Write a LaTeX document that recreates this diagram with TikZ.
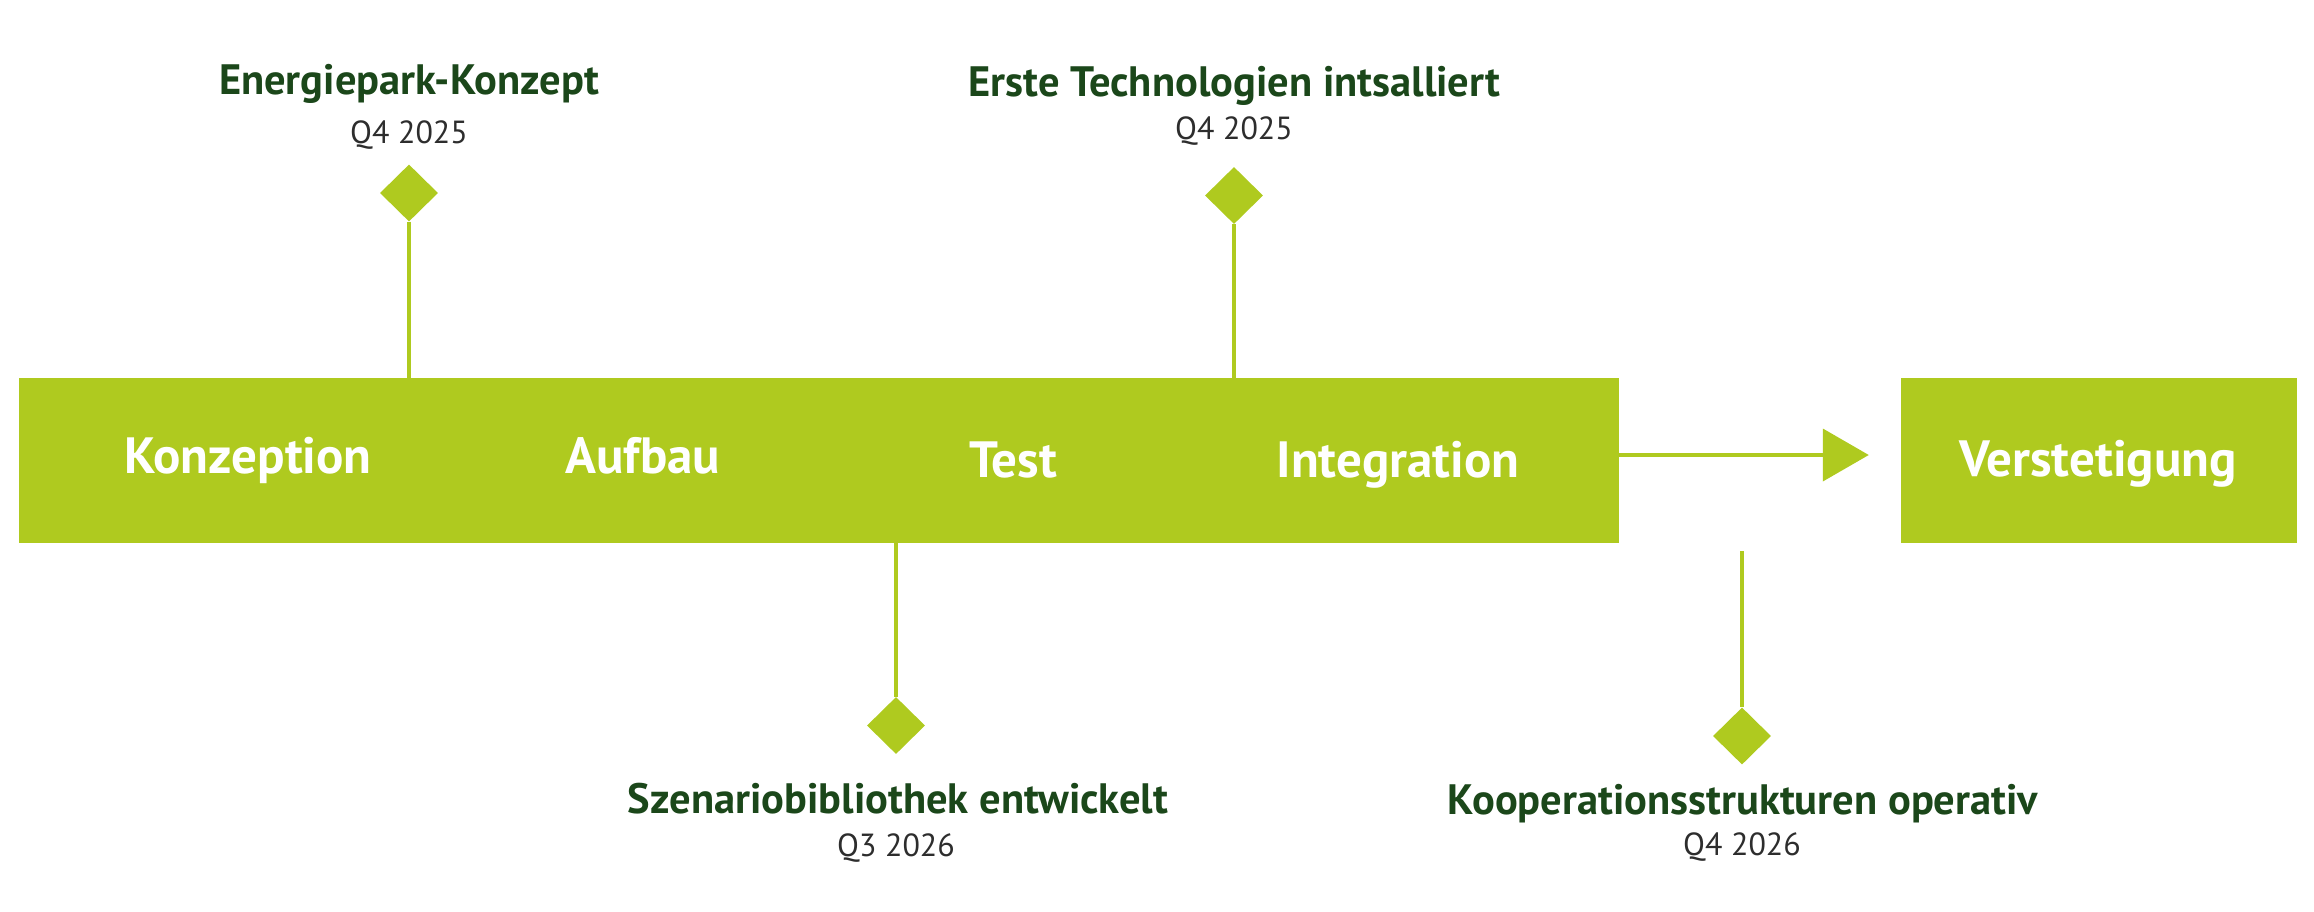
\documentclass[tikz,border=0pt]{standalone}
\usepackage{fontspec}
\setmainfont{PT Sans}
\usetikzlibrary{shapes.geometric,arrows.meta}
\definecolor{lime}{RGB}{175,202,31}
\definecolor{dgreen}{RGB}{27,71,26}
\definecolor{dgray}{RGB}{45,45,45}
\tikzset{
  phasebar/.style={fill=lime, draw=none, inner sep=0pt},
  phaselbl/.style={anchor=base, text=white, font=\bfseries\fontsize{51}{55}\selectfont, inner sep=0pt},
  msdiamond/.style={diamond, fill=lime, draw=none, inner sep=0pt, minimum width=58pt, minimum height=57pt},
  msline/.style={draw=lime, line width=4pt},
  mstitle/.style={anchor=base, text=dgreen, font=\bfseries\fontsize{42.5}{46}\selectfont, inner sep=0pt},
  msdate/.style={anchor=base, text=dgray, font=\fontsize{32}{36}\selectfont, inner sep=0pt},
  flowarrow/.style={draw=lime, line width=4pt, -{Triangle[length=46pt,width=52pt]}, shorten >=32pt}
}
\begin{document}
\begin{tikzpicture}[x=1pt,y=-1pt]
\useasboundingbox (0,0) rectangle (2314,911);
% bars
\node[phasebar, minimum width=1600pt, minimum height=165pt] (bar) at (819,460.5) {};
\node[phasebar, minimum width=396pt, minimum height=165pt] (verst) at (2099,460.5) {};
% phase labels
\node[phaselbl] (l1) at (248,473) {Konzeption};
\node[phaselbl] (l2) at (643,473) {Aufbau};
\node[phaselbl] (l3) at (1013,477) {Test};
\node[phaselbl] (l4) at (1398,477) {Integration};
\node[phaselbl] (l5) at (2098,476) {Verstetigung};
% arrow
\coordinate (a1) at (1619,455);
\draw[flowarrow] (a1) -- (verst.west |- a1);
% milestones
\node[msdiamond] (d1) at (409,193) {};
\node[msdiamond] (d2) at (1234,195.5) {};
\node[msdiamond] (d3) at (896,725.5) {};
\node[msdiamond] (d4) at (1742,736) {};
\draw[msline] (d1.south) -- (d1.south |- bar.north);
\draw[msline] (d2.south) -- (d2.south |- bar.north);
\draw[msline] (d3.north |- bar.south) -- (d3.north);
\coordinate (c4) at (1742,551);
\draw[msline] (c4) -- (d4.north);
% texts
\node[mstitle] (t1) at (409,94) {Energiepark-Konzept};
\node[msdate] (q1) at (409,143) {Q4 2025};
\node[mstitle] (t2) at (1234.5,96) {Erste Technologien intsalliert};
\node[msdate] (q2) at (1234,139.5) {Q4 2025};
\node[mstitle] (t3) at (898,813.5) {Szenariobibliothek entwickelt};
\node[msdate] (q3) at (896,856) {Q3 2026};
\node[mstitle] (t4) at (1743,814) {Kooperationsstrukturen operativ};
\node[msdate] (q4) at (1742,855) {Q4 2026};
\end{tikzpicture}
\end{document}
